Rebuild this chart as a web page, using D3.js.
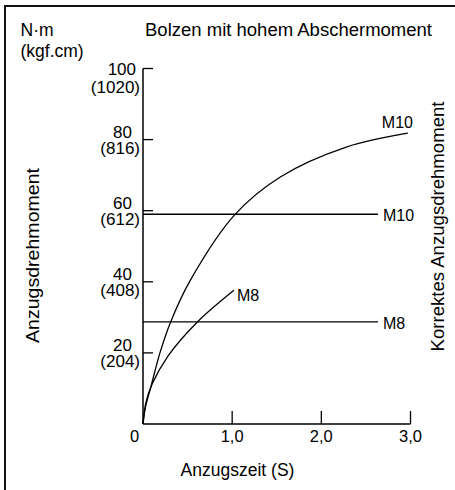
<!DOCTYPE html>
<html>
<head>
<meta charset="utf-8">
<script src="https://cdn.jsdelivr.net/npm/d3@7"></script>
<style>
  body { margin: 0; background: #fff; }
  svg { display: block; font-family: "Liberation Sans", Arial, sans-serif; }
</style>
</head>
<body>
<svg width="455" height="490"></svg>
<script>
// Data
var timeTicks = [0, 1, 2, 3];
var timeLabels = ["0", "1,0", "2,0", "3,0"];
var torqueTicks = [20, 40, 60, 80, 100];
var torqueLabels = ["20", "40", "60", "80", "100"];
var kgfLabels = ["(204)", "(408)", "(612)", "(816)", "(1020)"];

var m10Time = [0, 0.03, 0.09, 0.19, 0.31, 0.53, 1.03, 1.54, 2.28, 2.97];
var m10Torque = [0, 5, 10.6, 20, 28.7, 40.4, 58.9, 69.5, 77.9, 81.8];
var m8Time = [0, 0.03, 0.10, 0.28, 0.61, 1.02];
var m8Torque = [0, 5.7, 11.1, 19.1, 28.7, 37.6];

var correctNames = ["M10", "M8"];
var correctTorque = [59, 28.7];
var correctEnd = 2.635;

var svg = d3.select("svg");

// Scales
var x = d3.scaleLinear().domain([0, 3]).range([143, 410.5]);
var y = d3.scaleLinear().domain([0, 100]).range([424, 68.5]);

// Frame (left + top)
svg.append("path")
    .attr("d", "M5,490 V6 H455")
    .attr("fill", "none")
    .attr("stroke", "#111")
    .attr("stroke-width", 2);

// Y axis
svg.append("line")
    .attr("x1", x(0)).attr("x2", x(0))
    .attr("y1", y(100)).attr("y2", y(0))
    .attr("stroke", "#000").attr("stroke-width", 1.5);

svg.selectAll(".ytick")
    .data(torqueTicks)
    .enter().append("line")
    .attr("x1", x(0)).attr("x2", x(0) + 10)
    .attr("y1", function(d) { return y(d); })
    .attr("y2", function(d) { return y(d); })
    .attr("stroke", "#000").attr("stroke-width", 1.3);

// Y tick labels: N·m over kgf.cm
torqueTicks.forEach(function(d, i) {
    var top = d == 100;
    svg.append("text")
        .attr("x", top ? 136 : 132)
        .attr("y", top ? y(d) + 6.5 : y(d) - 2)
        .attr("text-anchor", "end")
        .attr("font-size", 17)
        .text(torqueLabels[i]);
    svg.append("text")
        .attr("x", 140)
        .attr("y", top ? y(d) + 24.5 : y(d) + 14)
        .attr("text-anchor", "end")
        .attr("font-size", 17)
        .text(kgfLabels[i]);
});

// X axis
svg.append("line")
    .attr("x1", x(0)).attr("x2", x(3))
    .attr("y1", y(0)).attr("y2", y(0))
    .attr("stroke", "#000").attr("stroke-width", 1.5);

svg.selectAll(".xtick")
    .data(timeTicks.slice(1))
    .enter().append("line")
    .attr("x1", function(d) { return x(d); })
    .attr("x2", function(d) { return x(d); })
    .attr("y1", y(0)).attr("y2", y(0) - 13)
    .attr("stroke", "#000").attr("stroke-width", 1.3);

svg.selectAll(".xlabel")
    .data(timeTicks)
    .enter().append("text")
    .attr("x", function(d) { return d == 0 ? x(d) - 8.5 : x(d); })
    .attr("y", 441.5)
    .attr("text-anchor", "middle")
    .attr("font-size", 16.5)
    .text(function(d, i) { return timeLabels[i]; });

// Correct torque lines
correctNames.forEach(function(name, i) {
    svg.append("line")
        .attr("x1", x(0)).attr("x2", x(correctEnd))
        .attr("y1", y(correctTorque[i])).attr("y2", y(correctTorque[i]))
        .attr("stroke", "#000").attr("stroke-width", 1.3);
    svg.append("text")
        .attr("x", x(correctEnd) + 5)
        .attr("y", y(correctTorque[i]) + 7)
        .attr("font-size", 16)
        .text(name);
});

// Tightening curves
var line = d3.line()
    .x(function(d) { return x(d[0]); })
    .y(function(d) { return y(d[1]); })
    .curve(d3.curveCatmullRom.alpha(0.5));

var curves = [
    { name: "M10", pts: d3.zip(m10Time, m10Torque), dx: -26, dy: -5 },
    { name: "M8", pts: d3.zip(m8Time, m8Torque), dx: 3, dy: 11 }
];

curves.forEach(function(c) {
    svg.append("path")
        .attr("d", line(c.pts))
        .attr("fill", "none")
        .attr("stroke", "#000")
        .attr("stroke-width", 1.3);
    var last = c.pts[c.pts.length - 1];
    svg.append("text")
        .attr("x", x(last[0]) + c.dx)
        .attr("y", y(last[1]) + c.dy)
        .attr("font-size", 16)
        .text(c.name);
});

// Titles and axis labels
svg.append("text")
    .attr("x", 20.5).attr("y", 36)
    .attr("font-size", 17.5)
    .text("N·m");
svg.append("text")
    .attr("x", 20.5).attr("y", 56.5)
    .attr("font-size", 17.5)
    .text("(kgf.cm)");

svg.append("text")
    .attr("x", 145).attr("y", 36)
    .attr("font-size", 17.5)
    .attr("textLength", 287)
    .attr("lengthAdjust", "spacingAndGlyphs")
    .text("Bolzen mit hohem Abschermoment");

svg.append("text")
    .attr("x", 237.5).attr("y", 476)
    .attr("text-anchor", "middle")
    .attr("font-size", 17.5)
    .text("Anzugszeit (S)");

svg.append("text")
    .attr("transform", "translate(38.5,255.5) rotate(-90)")
    .attr("text-anchor", "middle")
    .attr("font-size", 17.5)
    .attr("textLength", 175)
    .attr("lengthAdjust", "spacingAndGlyphs")
    .text("Anzugsdrehmoment");

svg.append("text")
    .attr("transform", "translate(443.5,226.5) rotate(-90)")
    .attr("text-anchor", "middle")
    .attr("font-size", 17.5)
    .attr("textLength", 250)
    .attr("lengthAdjust", "spacingAndGlyphs")
    .text("Korrektes Anzugsdrehmoment");
</script>
</body>
</html>
